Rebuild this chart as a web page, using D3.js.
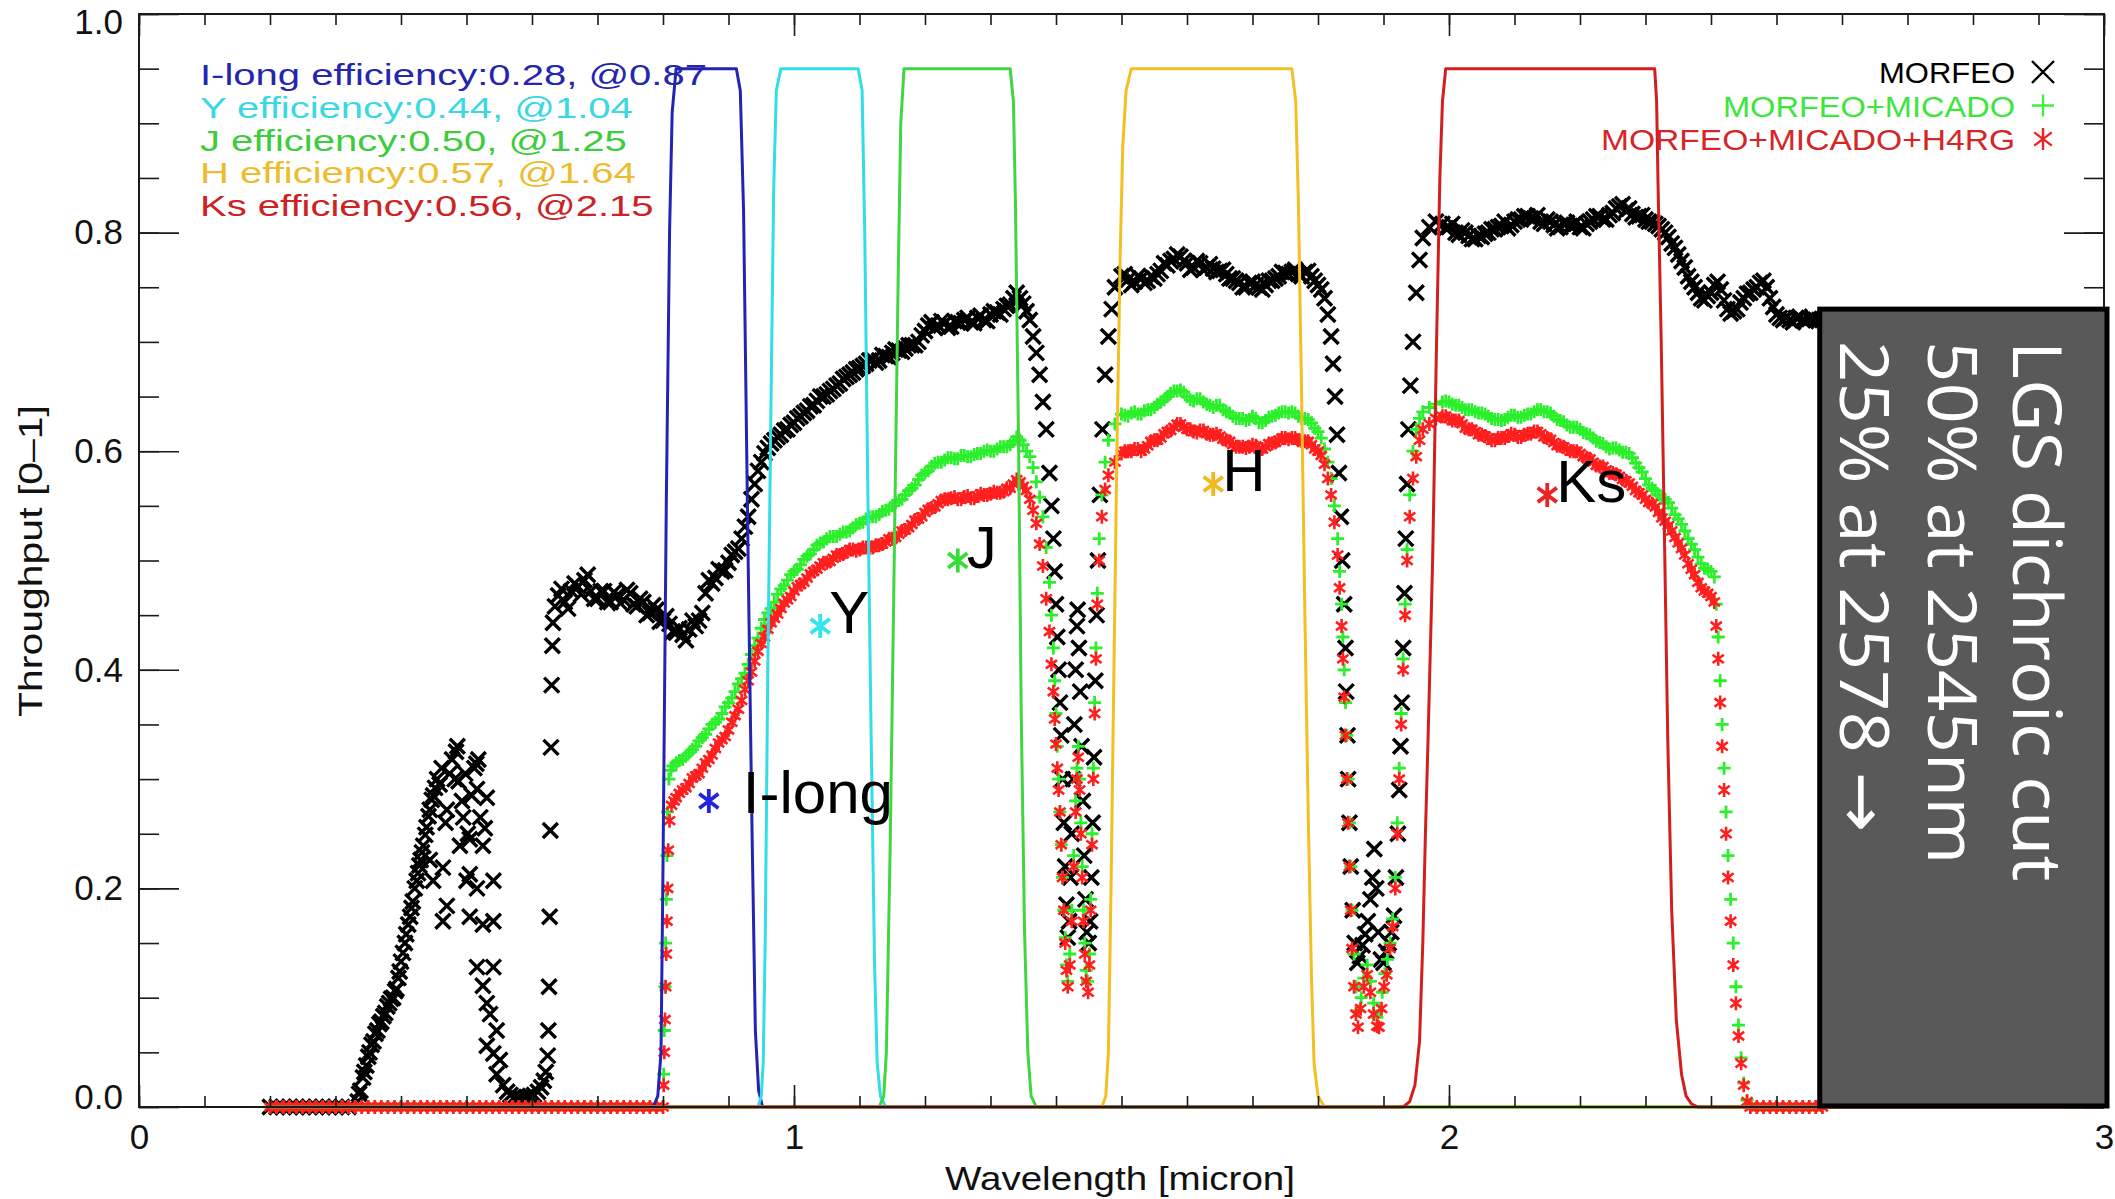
<!DOCTYPE html>
<html>
<head>
<meta charset="utf-8">
<title>MORFEO / MICADO throughput</title>
<script src="https://cdn.jsdelivr.net/npm/d3@7.9.0/dist/d3.min.js"></script>
<style>
  html, body { margin: 0; padding: 0; background: #fff; }
  svg { display: block; }
</style>
</head>
<body>
<svg id="chart" width="2115" height="1199"></svg>
<script>
// ---------------------------------------------------------------------------
// Data (wavelength in micron, throughput 0-1)
// ---------------------------------------------------------------------------
const bandNames   = ['I-long', 'Y', 'J', 'H', 'Ks'];
const bandCenters = [0.87, 1.04, 1.25, 1.64, 2.15];
const bandEff     = [0.28, 0.44, 0.50, 0.57, 0.56];

const seriesNames = ['MORFEO', 'MORFEO+MICADO', 'MORFEO+MICADO+H4RG'];

const xMajor = [0, 1, 2, 3];
const yMajor = [0, 0.2, 0.4, 0.6, 0.8, 1.0];

const boxLines = ['LGS dichroic cut', '50% at 2545nm', '25% at 2578 \u2192'];

// filter transmission curves
const iLongFilter = [[0.20,0],[0.785,0],[0.792,0.01],[0.797,0.05],[0.80,0.22],[0.805,0.55],[0.81,0.8],[0.814,0.91],[0.82,0.95],
  [0.912,0.95],[0.918,0.93],[0.923,0.82],[0.93,0.5],[0.936,0.25],[0.941,0.07],[0.946,0.015],[0.952,0],[3.0,0]];
const yFilter = [[0.20,0],[0.945,0],[0.95,0.01],[0.953,0.04],[0.956,0.15],[0.96,0.4],[0.965,0.65],[0.969,0.84],[0.973,0.93],[0.98,0.95],
  [1.098,0.95],[1.104,0.93],[1.108,0.8],[1.113,0.55],[1.118,0.33],[1.123,0.13],[1.127,0.04],[1.132,0.01],[1.14,0],[3.0,0]];
const jFilter = [[0.20,0],[1.13,0],[1.137,0.01],[1.141,0.05],[1.147,0.244],[1.153,0.5],[1.159,0.757],[1.163,0.9],[1.168,0.95],
  [1.33,0.95],[1.335,0.92],[1.338,0.83],[1.343,0.6],[1.347,0.357],[1.352,0.16],[1.357,0.05],[1.362,0.01],[1.37,0],[3.0,0]];
const hFilter = [[0.20,0],[1.47,0],[1.476,0.01],[1.48,0.05],[1.484,0.2],[1.488,0.38],[1.493,0.6],[1.498,0.78],[1.502,0.88],[1.507,0.93],[1.515,0.95],
  [1.76,0.95],[1.766,0.92],[1.77,0.83],[1.775,0.65],[1.78,0.45],[1.785,0.27],[1.79,0.12],[1.794,0.04],[1.80,0.01],[1.81,0],[3.0,0]];
const ksFilter = [[0.20,0],[1.93,0],[1.94,0.005],[1.948,0.02],[1.955,0.06],[1.96,0.15],[1.964,0.25],[1.968,0.336],[1.975,0.5],[1.981,0.7],[1.986,0.849],[1.99,0.92],[1.995,0.95],
  [2.314,0.95],[2.317,0.92],[2.319,0.849],[2.324,0.7],[2.329,0.52],[2.334,0.336],[2.34,0.18],[2.347,0.08],[2.355,0.03],[2.362,0.01],[2.37,0.003],[2.38,0],[3.0,0]];

// MORFEO alone (black crosses)
const morfeo = [
  [0.20,0],[0.21,0],[0.22,0],[0.23,0],[0.24,0],[0.25,0],[0.26,0],[0.27,0],[0.28,0],[0.29,0],[0.30,0],[0.31,0],[0.32,0],
  [0.334,0.005],[0.338,0.015],[0.342,0.027],[0.347,0.038],[0.352,0.05],[0.358,0.06],[0.364,0.07],[0.370,0.078],[0.376,0.086],
  [0.382,0.095],[0.388,0.1],[0.393,0.108],[0.398,0.124],[0.403,0.141],[0.408,0.158],[0.414,0.174],[0.418,0.188],[0.421,0.2],
  [0.426,0.214],[0.430,0.226],[0.434,0.239],[0.439,0.256],[0.444,0.272],[0.449,0.285],[0.452,0.292],
  [0.444,0.226],[0.449,0.207],[0.455,0.3],[0.459,0.295],[0.462,0.31],[0.464,0.219],[0.464,0.17],[0.468,0.26],[0.47,0.272],
  [0.47,0.184],[0.474,0.305],[0.478,0.318],[0.482,0.3],[0.484,0.325],[0.486,0.33],[0.488,0.298],[0.49,0.239],[0.493,0.28],
  [0.495,0.265],[0.498,0.305],[0.50,0.207],[0.502,0.25],[0.505,0.245],[0.505,0.213],[0.505,0.174],[0.508,0.285],[0.512,0.31],
  [0.515,0.314],[0.516,0.291],[0.516,0.2],[0.516,0.128],[0.518,0.318],[0.521,0.265],[0.525,0.239],[0.525,0.167],[0.525,0.111],
  [0.528,0.255],[0.531,0.283],[0.531,0.095],[0.531,0.056],[0.536,0.085],[0.541,0.207],[0.541,0.17],[0.541,0.128],[0.541,0.049],
  [0.546,0.07],[0.546,0.03],[0.551,0.043],[0.556,0.02],[0.562,0.014],
  [0.567,0.011],[0.573,0.009],[0.579,0.008],[0.585,0.008],[0.591,0.009],[0.597,0.01],[0.603,0.011],[0.609,0.014],[0.614,0.018],
  [0.618,0.024],[0.621,0.032],
  [0.624,0.047],[0.625,0.07],[0.626,0.11],[0.627,0.174],[0.628,0.253],[0.629,0.329],[0.630,0.386],[0.631,0.422],[0.632,0.443],
  [0.635,0.458],[0.64,0.468],[0.65,0.462],[0.66,0.472],[0.67,0.476],[0.68,0.482],[0.69,0.472],[0.70,0.465],[0.71,0.472],
  [0.72,0.462],[0.73,0.468],[0.74,0.464],[0.75,0.47],[0.76,0.458],[0.77,0.462],[0.78,0.452],[0.79,0.455],[0.80,0.445],
  [0.81,0.442],[0.82,0.434],[0.83,0.432],[0.84,0.437],[0.85,0.44],[0.86,0.452],[0.865,0.47],[0.87,0.482],[0.88,0.484],
  [0.89,0.49],[0.90,0.498],[0.91,0.508],[0.92,0.52],[0.93,0.54],[0.935,0.556],[0.94,0.57],[0.945,0.582],[0.95,0.59],
  [0.96,0.603],[0.97,0.61],[0.98,0.615],[0.99,0.62],[1.00,0.626],[1.01,0.632],[1.02,0.637],[1.03,0.642],[1.04,0.65],
  [1.05,0.652],[1.06,0.657],[1.07,0.662],[1.08,0.668],[1.09,0.672],[1.10,0.676],[1.11,0.68],[1.12,0.684],[1.13,0.683],
  [1.14,0.687],[1.15,0.69],[1.16,0.692],[1.17,0.694],[1.18,0.697],[1.19,0.70],[1.20,0.71],[1.21,0.718],[1.22,0.715],
  [1.23,0.717],[1.24,0.714],[1.25,0.718],[1.26,0.72],[1.27,0.718],[1.28,0.722],[1.29,0.72],[1.30,0.725],[1.31,0.727],
  [1.32,0.73],[1.33,0.734],[1.335,0.74],[1.34,0.745],[1.345,0.74],[1.35,0.735],[1.355,0.728],[1.36,0.72],[1.365,0.705],
  [1.37,0.69],[1.375,0.67],[1.38,0.645],[1.385,0.62],[1.39,0.58],[1.393,0.55],[1.396,0.52],[1.398,0.49],[1.40,0.46],
  [1.402,0.43],[1.404,0.40],[1.406,0.37],[1.408,0.34],[1.41,0.30],[1.412,0.26],[1.414,0.22],[1.416,0.185],[1.418,0.155],
  [1.42,0.17],[1.422,0.21],[1.424,0.25],[1.426,0.3],[1.428,0.35],[1.43,0.4],[1.432,0.44],[1.433,0.455],[1.435,0.42],
  [1.437,0.38],[1.439,0.33],[1.441,0.28],[1.443,0.23],[1.445,0.19],[1.447,0.16],[1.45,0.15],[1.452,0.17],[1.454,0.21],
  [1.456,0.26],[1.458,0.32],[1.46,0.39],[1.462,0.45],[1.464,0.5],[1.467,0.56],[1.471,0.62],[1.475,0.67],[1.48,0.705],
  [1.485,0.73],[1.49,0.75],[1.50,0.76],
  [1.51,0.757],[1.52,0.755],[1.53,0.758],[1.54,0.756],[1.55,0.758],[1.56,0.765],[1.57,0.77],[1.58,0.776],[1.59,0.778],
  [1.60,0.772],[1.61,0.768],[1.62,0.772],[1.63,0.768],[1.64,0.767],[1.65,0.765],[1.66,0.762],[1.67,0.758],[1.68,0.754],
  [1.69,0.75],[1.70,0.755],[1.71,0.75],[1.72,0.752],[1.73,0.756],[1.74,0.76],[1.75,0.763],[1.76,0.764],[1.77,0.762],
  [1.78,0.764],[1.79,0.76],[1.80,0.752],[1.805,0.748],[1.81,0.74],[1.815,0.725],[1.82,0.705],[1.823,0.68],[1.826,0.65],
  [1.829,0.615],[1.832,0.58],[1.835,0.54],[1.837,0.50],[1.84,0.46],[1.842,0.42],[1.843,0.38],[1.845,0.34],[1.846,0.30],
  [1.848,0.26],[1.85,0.22],[1.853,0.18],[1.856,0.15],[1.86,0.132],[1.864,0.138],[1.868,0.148],[1.872,0.158],[1.876,0.17],
  [1.88,0.19],[1.883,0.21],[1.886,0.236],[1.889,0.2],[1.892,0.16],[1.896,0.135],[1.90,0.132],[1.904,0.142],[1.908,0.15],
  [1.912,0.16],[1.916,0.175],[1.919,0.21],[1.922,0.25],[1.924,0.29],[1.926,0.33],[1.928,0.37],[1.93,0.42],[1.932,0.47],
  [1.934,0.52],[1.936,0.57],[1.938,0.62],[1.941,0.66],[1.945,0.70],[1.95,0.745],[1.955,0.775],[1.96,0.795],[1.97,0.805],
  [1.98,0.81],[1.99,0.808],
  [2.00,0.805],[2.01,0.80],[2.02,0.802],[2.03,0.797],[2.04,0.794],[2.05,0.796],[2.06,0.80],[2.07,0.803],[2.08,0.806],
  [2.09,0.804],[2.10,0.81],[2.11,0.812],[2.12,0.815],[2.13,0.813],[2.14,0.81],[2.15,0.812],[2.16,0.807],[2.17,0.805],
  [2.18,0.809],[2.19,0.807],[2.20,0.805],[2.21,0.808],[2.22,0.812],[2.23,0.815],[2.24,0.812],[2.25,0.818],[2.26,0.824],
  [2.265,0.826],[2.27,0.82],[2.28,0.817],[2.29,0.815],[2.30,0.812],[2.31,0.81],[2.32,0.806],[2.33,0.80],[2.34,0.79],
  [2.35,0.78],[2.36,0.768],[2.37,0.755],[2.38,0.745],[2.39,0.738],[2.40,0.745],[2.41,0.755],[2.42,0.738],[2.43,0.726],
  [2.44,0.73],[2.45,0.74],[2.46,0.745],[2.47,0.75],[2.48,0.756],[2.49,0.74],[2.50,0.725],[2.51,0.72],[2.52,0.72],
  [2.53,0.722],[2.54,0.72],[2.55,0.721],[2.56,0.72],[2.57,0.72]
];
// extra MORFEO samples read where the black cloud is densest
const morfeoDense = [
  [0.336,0.012],[0.344,0.032],[0.35,0.046],[0.355,0.057],[0.361,0.067],[0.367,0.076],[0.373,0.083],[0.379,0.092],[0.385,0.099],
  [0.391,0.106],[0.396,0.118],[0.40,0.133],[0.406,0.15],[0.411,0.167],[0.416,0.182],[0.424,0.207],[0.428,0.221],[0.432,0.233],
  [0.437,0.249],[0.442,0.266],[0.447,0.281],
  [0.645,0.474],[0.655,0.456],[0.665,0.479],[0.675,0.469],[0.685,0.487],[0.695,0.465],[0.705,0.472],[0.715,0.462],[0.725,0.471],
  [0.735,0.461],[0.745,0.473],[0.755,0.46],[0.765,0.465],[0.775,0.45],[0.785,0.459],[0.795,0.444],[0.805,0.449],[0.815,0.435],
  [0.825,0.438],[0.835,0.427],[0.845,0.445],[0.855,0.445],[0.875,0.479],[0.885,0.492],[0.895,0.491],[0.905,0.505],[0.915,0.511],
  [0.925,0.531],[0.955,0.598],[0.965,0.607],[0.975,0.613],[0.985,0.619],[0.995,0.624],[1.005,0.63],[1.015,0.635],[1.025,0.641],
  [1.035,0.646],[1.045,0.65],[1.055,0.655],[1.065,0.66],[1.075,0.666],[1.085,0.67],[1.095,0.675],[1.105,0.678],[1.115,0.683],
  [1.125,0.681],[1.135,0.688],[1.145,0.686],[1.155,0.693],[1.165,0.691],[1.175,0.697],[1.185,0.697],[1.195,0.706],[1.205,0.715],
  [1.215,0.713],[1.225,0.719],[1.235,0.713],[1.245,0.719],[1.255,0.717],[1.265,0.722],[1.275,0.717],[1.285,0.724],[1.295,0.719],
  [1.305,0.728],[1.315,0.725],[1.325,0.733],
  [1.505,0.762],[1.515,0.752],[1.525,0.76],[1.535,0.754],[1.545,0.76],[1.555,0.762],[1.565,0.772],[1.575,0.774],[1.585,0.78],
  [1.595,0.774],[1.605,0.766],[1.615,0.774],[1.625,0.766],[1.635,0.771],[1.645,0.764],[1.655,0.766],[1.665,0.758],[1.675,0.756],
  [1.685,0.75],[1.695,0.754],[1.705,0.752],[1.715,0.748],[1.725,0.756],[1.735,0.758],[1.745,0.764],[1.755,0.762],[1.765,0.766],
  [1.775,0.76],[1.785,0.765],[1.795,0.756],
  [1.995,0.804],[2.005,0.808],[2.015,0.798],[2.025,0.8],[2.035,0.794],[2.045,0.797],[2.055,0.799],[2.065,0.803],[2.075,0.805],
  [2.085,0.81],[2.095,0.807],[2.105,0.812],[2.115,0.815],[2.125,0.813],[2.135,0.816],[2.145,0.808],[2.155,0.81],[2.165,0.804],
  [2.175,0.808],[2.185,0.806],[2.195,0.81],[2.205,0.804],[2.215,0.81],[2.225,0.815],[2.235,0.812],[2.245,0.816],[2.255,0.822],
  [2.275,0.822],[2.285,0.814],[2.295,0.816],[2.305,0.81],[2.315,0.808],[2.325,0.803],[2.335,0.796],[2.345,0.786],[2.355,0.774],
  [2.365,0.76],[2.375,0.75],[2.385,0.74],[2.395,0.742],[2.405,0.752],[2.415,0.748],[2.425,0.73],[2.435,0.728],[2.445,0.736],
  [2.455,0.744],[2.465,0.748],[2.475,0.754],[2.485,0.75],[2.495,0.732],[2.505,0.722],[2.515,0.722],[2.525,0.718],[2.535,0.723],
  [2.545,0.719],[2.555,0.722],[2.565,0.72]
];

// MORFEO + MICADO (green plus signs)
const morfeoMicado = [
  [0.20,0],[0.21,0],[0.22,0],[0.23,0],[0.24,0],[0.25,0],[0.26,0],[0.27,0],[0.28,0],[0.29,0],[0.30,0],[0.31,0],[0.32,0],
  [0.33,0],[0.34,0],[0.35,0],[0.36,0],[0.37,0],[0.38,0],[0.39,0],[0.40,0],[0.41,0],[0.42,0],[0.43,0],[0.44,0],[0.45,0],
  [0.46,0],[0.47,0],[0.48,0],[0.49,0],[0.50,0],[0.51,0],[0.52,0],[0.53,0],[0.54,0],[0.55,0],[0.56,0],[0.57,0],[0.58,0],
  [0.59,0],[0.60,0],[0.61,0],[0.62,0],[0.63,0],[0.64,0],[0.65,0],[0.66,0],[0.67,0],[0.68,0],[0.69,0],[0.70,0],[0.71,0],
  [0.72,0],[0.73,0],[0.74,0],[0.75,0],[0.76,0],[0.77,0],[0.78,0],[0.79,0],[0.80,0],
  [0.801,0.03],[0.802,0.07],[0.803,0.11],[0.804,0.15],[0.805,0.19],[0.806,0.23],[0.807,0.27],[0.809,0.3],[0.812,0.308],
  [0.815,0.312],[0.82,0.315],[0.83,0.318],[0.84,0.324],[0.85,0.33],[0.86,0.338],[0.87,0.346],[0.88,0.352],[0.89,0.36],
  [0.90,0.37],[0.91,0.38],[0.92,0.392],[0.93,0.405],[0.94,0.422],[0.95,0.438],[0.96,0.452],[0.97,0.462],[0.98,0.474],
  [0.99,0.482],[1.00,0.49],[1.01,0.496],[1.02,0.504],[1.03,0.51],[1.04,0.516],[1.05,0.52],[1.06,0.522],[1.07,0.524],
  [1.08,0.526],[1.09,0.53],[1.10,0.534],[1.11,0.538],[1.12,0.54],[1.13,0.542],[1.14,0.546],[1.15,0.55],[1.16,0.555],
  [1.17,0.56],[1.18,0.566],[1.19,0.574],[1.20,0.58],[1.21,0.586],[1.22,0.59],[1.23,0.592],[1.24,0.594],[1.25,0.593],
  [1.26,0.596],[1.27,0.595],[1.28,0.598],[1.29,0.6],[1.30,0.6],[1.31,0.602],[1.32,0.604],[1.33,0.606],[1.335,0.609],
  [1.34,0.613],[1.345,0.61],[1.35,0.606],[1.355,0.6],[1.36,0.595],[1.365,0.585],[1.37,0.572],[1.375,0.558],[1.38,0.54],
  [1.385,0.512],[1.39,0.48],[1.393,0.45],[1.396,0.42],[1.398,0.39],[1.40,0.36],[1.402,0.33],[1.404,0.3],[1.406,0.27],
  [1.408,0.24],[1.41,0.21],[1.412,0.18],[1.414,0.155],[1.416,0.13],[1.418,0.115],[1.421,0.14],[1.424,0.18],[1.427,0.23],
  [1.43,0.28],[1.432,0.31],[1.434,0.33],[1.436,0.3],[1.438,0.26],[1.44,0.22],[1.442,0.18],[1.444,0.15],[1.446,0.125],
  [1.448,0.115],[1.451,0.14],[1.453,0.19],[1.455,0.25],[1.457,0.31],[1.459,0.37],[1.461,0.42],[1.463,0.47],[1.466,0.52],
  [1.47,0.56],[1.475,0.59],[1.48,0.61],[1.49,0.625],[1.50,0.634],
  [1.51,0.632],[1.52,0.636],[1.53,0.634],[1.54,0.638],[1.55,0.64],[1.56,0.645],[1.57,0.65],[1.58,0.655],[1.59,0.656],
  [1.60,0.65],[1.61,0.646],[1.62,0.648],[1.63,0.643],[1.64,0.64],[1.65,0.642],[1.66,0.636],[1.67,0.632],[1.68,0.63],
  [1.69,0.628],[1.70,0.632],[1.71,0.626],[1.72,0.628],[1.73,0.632],[1.74,0.635],[1.75,0.636],[1.76,0.636],[1.77,0.632],
  [1.78,0.63],[1.79,0.626],[1.80,0.618],[1.805,0.612],[1.81,0.602],[1.815,0.59],[1.82,0.575],[1.825,0.55],[1.83,0.52],
  [1.833,0.49],[1.836,0.46],[1.838,0.43],[1.84,0.40],[1.842,0.37],[1.844,0.34],[1.846,0.30],[1.848,0.26],[1.85,0.22],
  [1.852,0.18],[1.855,0.14],[1.858,0.11],[1.862,0.088],[1.866,0.1],[1.87,0.118],[1.875,0.13],[1.88,0.115],[1.885,0.095],
  [1.89,0.082],[1.894,0.088],[1.898,0.105],[1.902,0.122],[1.906,0.135],[1.91,0.15],[1.914,0.172],[1.918,0.21],[1.921,0.26],
  [1.924,0.31],[1.927,0.36],[1.93,0.41],[1.933,0.46],[1.936,0.51],[1.94,0.56],[1.945,0.6],[1.95,0.62],[1.955,0.63],
  [1.96,0.636],[1.97,0.64],[1.98,0.643],[1.99,0.645],
  [2.00,0.645],[2.01,0.642],[2.02,0.64],[2.03,0.638],[2.04,0.636],[2.05,0.635],[2.06,0.632],[2.07,0.629],[2.08,0.628],
  [2.09,0.631],[2.10,0.633],[2.11,0.631],[2.12,0.634],[2.13,0.636],[2.14,0.638],[2.15,0.636],[2.16,0.632],[2.17,0.628],
  [2.18,0.624],[2.19,0.622],[2.20,0.62],[2.21,0.616],[2.22,0.612],[2.23,0.608],[2.24,0.604],[2.25,0.603],[2.26,0.601],
  [2.27,0.599],[2.28,0.594],[2.29,0.585],[2.30,0.575],[2.31,0.566],[2.32,0.56],[2.33,0.556],[2.34,0.548],[2.35,0.538],
  [2.36,0.527],[2.37,0.515],[2.38,0.503],[2.39,0.493],[2.40,0.49],[2.405,0.485],[2.408,0.46],[2.411,0.43],[2.414,0.39],
  [2.417,0.35],[2.42,0.31],[2.423,0.27],[2.426,0.23],[2.43,0.19],[2.434,0.15],[2.438,0.11],[2.442,0.075],[2.446,0.045],
  [2.45,0.022],[2.455,0.006],[2.46,0],[2.47,0],[2.48,0],[2.49,0],[2.50,0],[2.51,0],[2.52,0],[2.53,0],[2.54,0],[2.55,0],
  [2.56,0],[2.57,0]
];
const morfeoMicadoDense = [
  [0.825,0.317],[0.835,0.321],[0.845,0.327],[0.855,0.335],[0.865,0.341],[0.875,0.35],[0.885,0.355],[0.895,0.366],[0.905,0.374],
  [0.915,0.387],[0.925,0.397],[0.935,0.414],[0.945,0.429],[0.955,0.446],[0.965,0.456],[0.975,0.469],[0.985,0.477],[0.995,0.487],
  [1.005,0.492],[1.015,0.501],[1.025,0.506],[1.035,0.514],[1.045,0.517],[1.055,0.522],[1.065,0.522],[1.075,0.526],[1.085,0.527],
  [1.095,0.533],[1.105,0.535],[1.115,0.54],[1.125,0.54],[1.135,0.545],[1.145,0.547],[1.155,0.553],[1.165,0.556],[1.175,0.564],
  [1.185,0.569],[1.195,0.578],[1.205,0.582],[1.215,0.589],[1.225,0.59],[1.235,0.594],[1.245,0.593],[1.255,0.596],[1.265,0.595],
  [1.275,0.597],[1.285,0.598],[1.295,0.601],[1.305,0.6],[1.315,0.604],[1.325,0.604],
  [1.505,0.633],[1.515,0.635],[1.525,0.634],[1.535,0.637],[1.545,0.638],[1.555,0.643],[1.565,0.647],[1.575,0.653],[1.585,0.655],
  [1.595,0.654],[1.605,0.647],[1.615,0.648],[1.625,0.645],[1.635,0.642],[1.645,0.642],[1.655,0.638],[1.665,0.635],[1.675,0.63],
  [1.685,0.63],[1.695,0.629],[1.705,0.63],[1.715,0.626],[1.725,0.631],[1.735,0.633],[1.745,0.636],[1.755,0.635],[1.765,0.635],
  [1.775,0.63],[1.785,0.629],[1.795,0.621],
  [1.995,0.646],[2.005,0.643],[2.015,0.642],[2.025,0.638],[2.035,0.638],[2.045,0.635],[2.055,0.634],[2.065,0.63],[2.075,0.629],
  [2.085,0.629],[2.095,0.633],[2.105,0.631],[2.115,0.633],[2.125,0.634],[2.135,0.638],[2.145,0.636],[2.155,0.635],[2.165,0.629],
  [2.175,0.627],[2.185,0.622],[2.195,0.622],[2.205,0.617],[2.215,0.615],[2.225,0.609],[2.235,0.607],[2.245,0.602],[2.255,0.603],
  [2.265,0.599],[2.275,0.598],[2.285,0.589],[2.295,0.581],[2.305,0.569],[2.315,0.564],[2.325,0.557],[2.335,0.553],[2.345,0.542],
  [2.355,0.533],[2.365,0.52],[2.375,0.51],[2.385,0.497],[2.395,0.492]
];

// MORFEO + MICADO + H4RG (red asterisks)
const morfeoMicadoH4rg = [
  [0.20,0],[0.21,0],[0.22,0],[0.23,0],[0.24,0],[0.25,0],[0.26,0],[0.27,0],[0.28,0],[0.29,0],[0.30,0],[0.31,0],[0.32,0],
  [0.33,0],[0.34,0],[0.35,0],[0.36,0],[0.37,0],[0.38,0],[0.39,0],[0.40,0],[0.41,0],[0.42,0],[0.43,0],[0.44,0],[0.45,0],
  [0.46,0],[0.47,0],[0.48,0],[0.49,0],[0.50,0],[0.51,0],[0.52,0],[0.53,0],[0.54,0],[0.55,0],[0.56,0],[0.57,0],[0.58,0],
  [0.59,0],[0.60,0],[0.61,0],[0.62,0],[0.63,0],[0.64,0],[0.65,0],[0.66,0],[0.67,0],[0.68,0],[0.69,0],[0.70,0],[0.71,0],
  [0.72,0],[0.73,0],[0.74,0],[0.75,0],[0.76,0],[0.77,0],[0.78,0],[0.79,0],[0.80,0],
  [0.801,0.02],[0.802,0.05],[0.803,0.08],[0.804,0.11],[0.805,0.14],[0.806,0.17],[0.807,0.2],[0.808,0.235],[0.81,0.262],
  [0.813,0.276],[0.817,0.28],[0.82,0.283],[0.83,0.29],[0.84,0.296],[0.85,0.303],[0.86,0.31],[0.87,0.318],[0.88,0.328],
  [0.89,0.336],[0.90,0.345],[0.91,0.358],[0.92,0.372],[0.93,0.39],[0.94,0.408],[0.95,0.424],[0.96,0.437],[0.97,0.447],
  [0.98,0.456],[0.99,0.464],[1.00,0.472],[1.01,0.478],[1.02,0.484],[1.03,0.49],[1.04,0.495],[1.05,0.498],[1.06,0.502],
  [1.07,0.505],[1.08,0.508],[1.09,0.51],[1.10,0.51],[1.11,0.512],[1.12,0.512],[1.13,0.514],[1.14,0.517],[1.15,0.52],
  [1.16,0.524],[1.17,0.528],[1.18,0.533],[1.19,0.538],[1.20,0.544],[1.21,0.548],[1.22,0.552],[1.23,0.556],[1.24,0.557],
  [1.25,0.556],[1.26,0.558],[1.27,0.557],[1.28,0.559],[1.29,0.56],[1.30,0.561],[1.31,0.562],[1.32,0.563],[1.33,0.566],
  [1.335,0.57],[1.34,0.574],[1.345,0.572],[1.35,0.568],[1.355,0.564],[1.36,0.556],[1.365,0.546],[1.37,0.534],[1.375,0.515],
  [1.38,0.495],[1.385,0.465],[1.39,0.435],[1.393,0.405],[1.396,0.38],[1.398,0.355],[1.40,0.332],[1.402,0.31],[1.404,0.29],
  [1.406,0.27],[1.408,0.24],[1.41,0.21],[1.412,0.18],[1.414,0.15],[1.416,0.125],[1.418,0.11],[1.421,0.13],[1.424,0.17],
  [1.427,0.22],[1.43,0.27],[1.432,0.3],[1.434,0.32],[1.436,0.29],[1.438,0.25],[1.44,0.21],[1.442,0.17],[1.444,0.14],
  [1.446,0.115],[1.449,0.105],[1.451,0.13],[1.453,0.18],[1.455,0.24],[1.457,0.3],[1.459,0.36],[1.461,0.41],[1.463,0.46],
  [1.466,0.5],[1.47,0.54],[1.475,0.565],[1.48,0.578],[1.49,0.59],[1.50,0.598],
  [1.51,0.6],[1.52,0.602],[1.53,0.6],[1.54,0.605],[1.55,0.61],[1.56,0.612],[1.57,0.618],[1.58,0.622],[1.59,0.625],
  [1.60,0.62],[1.61,0.618],[1.62,0.619],[1.63,0.616],[1.64,0.615],[1.65,0.614],[1.66,0.61],[1.67,0.606],[1.68,0.604],
  [1.69,0.603],[1.70,0.606],[1.71,0.602],[1.72,0.604],[1.73,0.607],[1.74,0.61],[1.75,0.612],[1.76,0.612],[1.77,0.61],
  [1.78,0.609],[1.79,0.606],[1.80,0.6],[1.805,0.596],[1.81,0.588],[1.815,0.575],[1.82,0.56],[1.825,0.535],[1.83,0.505],
  [1.833,0.475],[1.836,0.44],[1.838,0.41],[1.84,0.375],[1.842,0.34],[1.844,0.3],[1.846,0.26],[1.848,0.22],[1.85,0.18],
  [1.852,0.145],[1.855,0.11],[1.858,0.085],[1.861,0.073],[1.865,0.09],[1.87,0.11],[1.875,0.121],[1.88,0.105],[1.885,0.085],
  [1.89,0.074],[1.893,0.073],[1.897,0.09],[1.901,0.11],[1.905,0.121],[1.91,0.145],[1.914,0.165],[1.918,0.2],[1.921,0.25],
  [1.924,0.3],[1.927,0.35],[1.93,0.4],[1.933,0.45],[1.936,0.5],[1.94,0.54],[1.945,0.575],[1.95,0.595],[1.955,0.61],
  [1.96,0.62],[1.97,0.625],[1.98,0.63],[1.99,0.632],
  [2.00,0.63],[2.01,0.628],[2.02,0.625],[2.03,0.62],[2.04,0.618],[2.05,0.615],[2.06,0.612],[2.07,0.61],[2.08,0.612],
  [2.09,0.614],[2.10,0.615],[2.11,0.613],[2.12,0.616],[2.13,0.618],[2.14,0.616],[2.15,0.612],[2.16,0.608],[2.17,0.605],
  [2.18,0.602],[2.19,0.6],[2.20,0.598],[2.21,0.594],[2.22,0.59],[2.23,0.586],[2.24,0.583],[2.25,0.58],[2.26,0.577],
  [2.27,0.573],[2.28,0.568],[2.29,0.562],[2.30,0.556],[2.31,0.552],[2.32,0.544],[2.33,0.536],[2.34,0.527],[2.35,0.516],
  [2.36,0.505],[2.37,0.492],[2.38,0.48],[2.39,0.472],[2.40,0.467],[2.405,0.462],[2.408,0.44],[2.411,0.41],[2.414,0.37],
  [2.417,0.33],[2.42,0.29],[2.423,0.25],[2.426,0.21],[2.43,0.17],[2.434,0.13],[2.438,0.095],[2.442,0.065],[2.446,0.04],
  [2.45,0.02],[2.455,0.005],[2.46,0],[2.47,0],[2.48,0],[2.49,0],[2.50,0],[2.51,0],[2.52,0],[2.53,0],[2.54,0],[2.55,0],
  [2.56,0],[2.57,0]
];
const morfeoMicadoH4rgDense = [
  [0.825,0.287],[0.835,0.292],[0.845,0.301],[0.855,0.305],[0.865,0.315],[0.875,0.322],[0.885,0.333],[0.895,0.339],[0.905,0.352],
  [0.915,0.364],[0.925,0.382],[0.935,0.398],[0.945,0.417],[0.955,0.43],[0.965,0.443],[0.975,0.451],[0.985,0.461],[0.995,0.467],
  [1.005,0.476],[1.015,0.48],[1.025,0.488],[1.035,0.492],[1.045,0.498],[1.055,0.499],[1.065,0.505],[1.075,0.506],[1.085,0.51],
  [1.095,0.509],[1.105,0.512],[1.115,0.511],[1.125,0.514],[1.135,0.515],[1.145,0.52],[1.155,0.521],[1.165,0.527],[1.175,0.53],
  [1.185,0.537],[1.195,0.54],[1.205,0.547],[1.215,0.549],[1.225,0.555],[1.235,0.556],[1.245,0.558],[1.255,0.556],[1.265,0.559],
  [1.275,0.557],[1.285,0.561],[1.295,0.56],[1.305,0.563],[1.315,0.562],[1.325,0.566],
  [1.505,0.6],[1.515,0.6],[1.525,0.602],[1.535,0.602],[1.545,0.609],[1.555,0.61],[1.565,0.616],[1.575,0.619],[1.585,0.625],
  [1.595,0.622],[1.605,0.62],[1.615,0.617],[1.625,0.619],[1.635,0.615],[1.645,0.616],[1.655,0.611],[1.665,0.609],[1.675,0.604],
  [1.685,0.604],[1.695,0.604],[1.705,0.605],[1.715,0.602],[1.725,0.607],[1.735,0.608],[1.745,0.612],[1.755,0.611],[1.765,0.612],
  [1.775,0.609],[1.785,0.609],[1.795,0.602],
  [1.995,0.632],[2.005,0.628],[2.015,0.628],[2.025,0.621],[2.035,0.62],[2.045,0.615],[2.055,0.614],[2.065,0.61],[2.075,0.612],
  [2.085,0.612],[2.095,0.616],[2.105,0.613],[2.115,0.615],[2.125,0.616],[2.135,0.618],[2.145,0.613],[2.155,0.611],[2.165,0.605],
  [2.175,0.604],[2.185,0.6],[2.195,0.6],[2.205,0.595],[2.215,0.593],[2.225,0.587],[2.235,0.586],[2.245,0.58],[2.255,0.579],
  [2.265,0.574],[2.275,0.571],[2.285,0.564],[2.295,0.56],[2.305,0.553],[2.315,0.549],[2.325,0.539],[2.335,0.532],[2.345,0.521],
  [2.355,0.511],[2.365,0.497],[2.375,0.487],[2.385,0.475],[2.395,0.47]
];

// ---------------------------------------------------------------------------
// Styles
// ---------------------------------------------------------------------------
const bandLineColors = ['#2323b4', '#33dde6', '#40d640', '#f0c024', '#d21e1e'];
const bandTextColors = ['#2626ac', '#3ad8e0', '#3ccc3c', '#ecbc2e', '#cc2222'];
const bandStarColors = ['#2424dd', '#33e6ee', '#33dd33', '#f2b820', '#ee2222'];
const seriesColors   = ['#000000', '#2bef2b', '#ff1f1f'];
const legendSymColors = ['#000000', '#44ee44', '#ee2222'];
const legendTextColors = ['#000000', '#3ce63c', '#d42626'];
const legendTextWidths = [136, 292, 414];
const SANS = '"Liberation Sans", Arial, sans-serif';

// IDL-like stroke symbols (size = full width in px)
const markTimes = { draw(ctx, s) { const r = s / 2; ctx.moveTo(-r, -r); ctx.lineTo(r, r); ctx.moveTo(-r, r); ctx.lineTo(r, -r); } };
const markPlus  = { draw(ctx, s) { const r = s / 2; ctx.moveTo(-r, 0); ctx.lineTo(r, 0); ctx.moveTo(0, -r); ctx.lineTo(0, r); } };
const markStar  = { draw(ctx, s) {
  const r = s / 2, a = r * 0.8, b = r * 0.6;
  ctx.moveTo(0, -r); ctx.lineTo(0, r);
  ctx.moveTo(-a, -b); ctx.lineTo(a, b);
  ctx.moveTo(-a, b); ctx.lineTo(a, -b);
} };

// ---------------------------------------------------------------------------
// Scales
// ---------------------------------------------------------------------------
const svg = d3.select('#chart');
const x = d3.scaleLinear().domain([0, 3]).range([139, 2104]);
const y = d3.scaleLinear().domain([0, 1]).range([1107, 14]);

// ---------------------------------------------------------------------------
// Data series (scatter) - dense marks overlap into thick bands like the IDL plot
// ---------------------------------------------------------------------------
const series = [
  { data: morfeo.concat(morfeoDense),                     type: markTimes, size: 15, width: 3.4 },
  { data: morfeoMicado.concat(morfeoMicadoDense),         type: markPlus,  size: 13, width: 2.8 },
  { data: morfeoMicadoH4rg.concat(morfeoMicadoH4rgDense), type: markStar,  size: 14, width: 2.6 }
];
series.forEach((s, i) => {
  svg.append('g')
    .attr('fill', 'none')
    .attr('stroke', seriesColors[i])
    .attr('stroke-width', s.width)
    .selectAll('path')
    .data(s.data)
    .join('path')
    .attr('transform', d => `translate(${x(d[0])},${y(d[1])})`)
    .attr('d', d3.symbol(s.type, s.size));
});

// ---------------------------------------------------------------------------
// Filter curves
// ---------------------------------------------------------------------------
const line = d3.line().x(d => x(d[0])).y(d => y(d[1]));
[iLongFilter, yFilter, jFilter, hFilter, ksFilter].forEach((f, i) => {
  svg.append('path')
    .attr('d', line(f))
    .attr('fill', 'none')
    .attr('stroke', bandLineColors[i])
    .attr('stroke-width', 3)
    .attr('stroke-linejoin', 'round');
});

// ---------------------------------------------------------------------------
// Efficiency stars + band labels
// ---------------------------------------------------------------------------
const starG = svg.append('g');
bandNames.forEach((name, i) => {
  const cx = x(bandCenters[i]), cy = y(bandEff[i]);
  starG.append('path')
    .attr('transform', `translate(${cx},${cy})`)
    .attr('d', d3.symbol(markStar, 24)())
    .attr('fill', 'none')
    .attr('stroke', bandStarColors[i])
    .attr('stroke-width', 3.8);
  starG.append('text')
    .attr('x', cx + (name === 'I-long' ? 34 : 9))
    .attr('y', cy + (name === 'I-long' ? 12 : 7))
    .attr('font-family', SANS)
    .attr('font-size', 60)
    .attr('fill', '#000')
    .text(name);
});

// ---------------------------------------------------------------------------
// Legends
// ---------------------------------------------------------------------------
const legL = svg.append('g');
bandNames.forEach((name, i) => {
  legL.append('text')
    .attr('transform', `translate(200,${85 + 32.8 * i}) scale(1.38,1)`)
    .attr('font-family', SANS)
    .attr('font-size', 29)
    .attr('fill', bandTextColors[i])
    .text(`${name} efficiency:${bandEff[i].toFixed(2)}, @${bandCenters[i].toFixed(2)}`);
});

const legR = svg.append('g');
const legRBase = [83, 116.5, 150];
seriesNames.forEach((name, i) => {
  legR.append('text')
    .attr('x', 2015)
    .attr('y', legRBase[i])
    .attr('text-anchor', 'end')
    .attr('font-family', SANS)
    .attr('font-size', 30)
    .attr('textLength', legendTextWidths[i])
    .attr('lengthAdjust', 'spacingAndGlyphs')
    .attr('fill', legendTextColors[i])
    .text(name);
  legR.append('path')
    .attr('transform', `translate(2043,${legRBase[i] - 11})`)
    .attr('d', d3.symbol(series[i].type, 22)())
    .attr('fill', 'none')
    .attr('stroke', legendSymColors[i])
    .attr('stroke-width', 2.4);
});

// ---------------------------------------------------------------------------
// Axes (ticks on all four sides, IDL style)
// ---------------------------------------------------------------------------
const xMinor = d3.range(0, 31).map(i => i / 10);
const yMinor = d3.range(0, 21).map(i => i / 20);
const noLabel = () => '';

function addAxis(gen, tr, values, size, fmt) {
  const g = svg.append('g')
    .attr('transform', tr)
    .call(gen.tickValues(values).tickSizeInner(size).tickSizeOuter(0).tickFormat(fmt || noLabel));
  g.select('.domain').remove();
  g.selectAll('.tick line').attr('stroke', '#1a1a1a').attr('stroke-width', 1.6);
  g.attr('font-family', SANS).attr('font-size', 35).attr('color', '#111');
  return g;
}

addAxis(d3.axisBottom(x), `translate(0,${y(0)})`, xMinor, -11);
addAxis(d3.axisBottom(x).tickPadding(17), `translate(0,${y(0)})`, xMajor, -22, d3.format('d'));
addAxis(d3.axisTop(x), `translate(0,${y(1)})`, xMinor, -11);
addAxis(d3.axisTop(x), `translate(0,${y(1)})`, xMajor, -22);
addAxis(d3.axisLeft(y), `translate(${x(0)},0)`, yMinor, -20);
const gy = addAxis(d3.axisLeft(y).tickPadding(16), `translate(${x(0)},0)`, yMajor, -40, d3.format('.1f'));
gy.selectAll('.tick text')
  .attr('transform', d => d === 1 ? 'translate(0,8)' : d === 0 ? 'translate(0,-10)' : null);
addAxis(d3.axisRight(y), `translate(${x(3)},0)`, yMinor, -20);
addAxis(d3.axisRight(y), `translate(${x(3)},0)`, yMajor, -40);

svg.append('rect')
  .attr('x', x(0)).attr('y', y(1))
  .attr('width', x(3) - x(0)).attr('height', y(0) - y(1))
  .attr('fill', 'none').attr('stroke', '#1a1a1a').attr('stroke-width', 2);

// axis titles
svg.append('text')
  .attr('x', 1120).attr('y', 1190)
  .attr('text-anchor', 'middle')
  .attr('font-family', SANS).attr('font-size', 34)
  .attr('textLength', 350).attr('lengthAdjust', 'spacingAndGlyphs')
  .attr('fill', '#111')
  .text('Wavelength [micron]');
svg.append('text')
  .attr('transform', 'translate(42,561) rotate(-90)')
  .attr('text-anchor', 'middle')
  .attr('font-family', SANS).attr('font-size', 33)
  .attr('textLength', 312).attr('lengthAdjust', 'spacingAndGlyphs')
  .attr('fill', '#111')
  .text('Throughput [0\u20131]');

// ---------------------------------------------------------------------------
// LGS dichroic box
// ---------------------------------------------------------------------------
const bx0 = x(2.566), by0 = y(0.73), bx1 = x(3) + 3, by1 = y(0) - 1;
svg.append('rect')
  .attr('x', bx0).attr('y', by0)
  .attr('width', bx1 - bx0).attr('height', by1 - by0)
  .attr('fill', '#595959').attr('stroke', '#000').attr('stroke-width', 5);
const boxBase = [193, 108, 20];
boxLines.forEach((t, i) => {
  const tx = svg.append('text')
    .attr('transform', `translate(${bx0 + boxBase[i]},${by0 + 32}) rotate(90)`)
    .attr('font-family', '"Open Sans", "DejaVu Sans", sans-serif')
    .attr('font-size', 67)
    .attr('fill', '#fff')
    .text(t);
  const w = tx.node().getComputedTextLength();
  tx.attr('textLength', w * 1.08).attr('lengthAdjust', 'spacingAndGlyphs');
});
</script>
</body>
</html>
